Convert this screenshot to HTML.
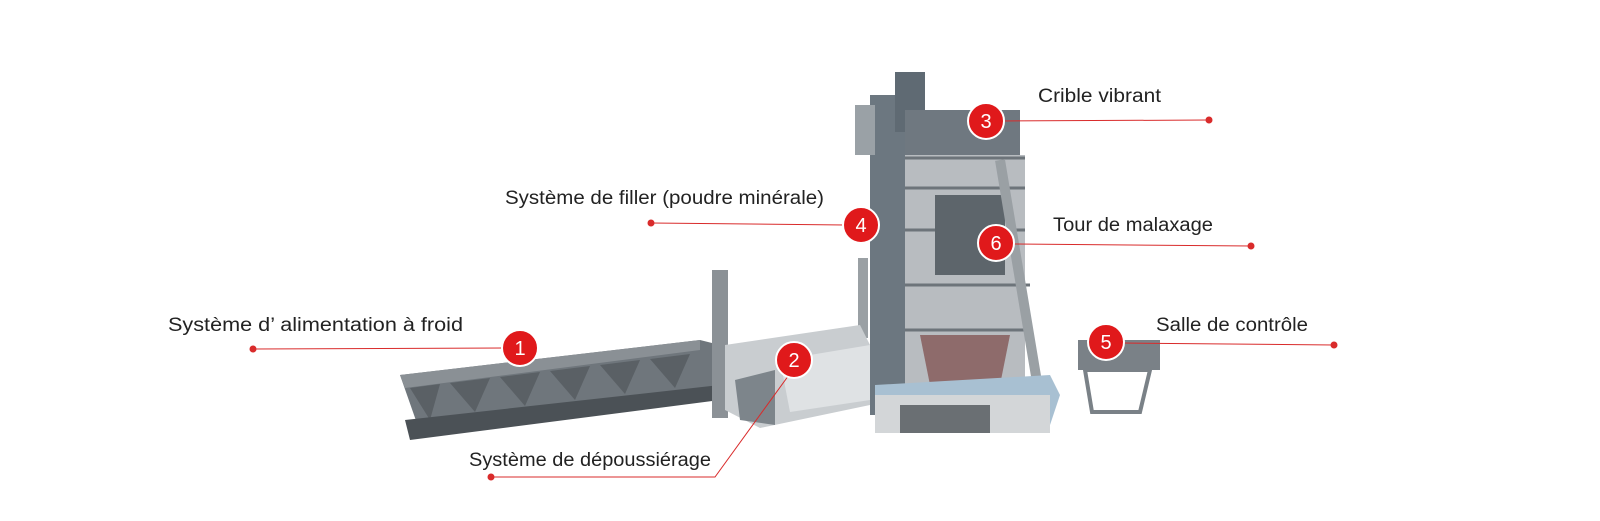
<!DOCTYPE html>
<html><head><meta charset="utf-8"><style>
html,body{margin:0;padding:0;background:#fff;}
svg{display:block}
text{font-family:"Liberation Sans",sans-serif;font-size:19px;fill:#222;}
.n{fill:#fff;font-size:20px;text-anchor:middle;}
</style></head><body>
<svg width="1600" height="521" viewBox="0 0 1600 521" xmlns="http://www.w3.org/2000/svg">
<!-- cold feed hoppers -->
<polygon points="400,375 700,340 720,345 720,395 420,432" fill="#6f767c"/>
<polygon points="400,375 700,340 700,350 405,388" fill="#8a9095"/>
<g fill="#5a6065">
<polygon points="410,388 440,384 430,420"/><polygon points="450,383 490,378 475,412"/><polygon points="500,377 540,372 525,406"/>
<polygon points="550,371 590,366 575,400"/><polygon points="600,365 640,360 625,394"/><polygon points="650,359 690,354 675,388"/>
</g>
<polygon points="405,420 720,385 720,400 410,440" fill="#4b5156"/>
<!-- stack & dust house -->
<rect x="712" y="270" width="16" height="148" fill="#8b9196"/>
<rect x="858" y="258" width="10" height="80" fill="#9aa0a4"/>
<polygon points="725,345 860,325 870,345 870,405 760,428 725,410" fill="#c9cdd0"/>
<polygon points="735,380 775,370 775,425 740,420" fill="#7d858b"/>
<polygon points="780,360 870,345 870,400 790,412" fill="#dfe2e4"/>
<!-- tower column -->
<rect x="870" y="95" width="36" height="320" fill="#6c7780"/>
<rect x="895" y="72" width="30" height="60" fill="#5f6a73"/>
<rect x="855" y="105" width="20" height="50" fill="#9aa1a6"/>
<!-- tower frame -->
<rect x="905" y="110" width="115" height="45" fill="#6f7880"/>
<rect x="905" y="155" width="120" height="230" fill="#b8bcc0"/>
<g stroke="#6d747a" stroke-width="3">
<line x1="905" y1="158" x2="1025" y2="158"/><line x1="905" y1="188" x2="1025" y2="188"/>
<line x1="905" y1="230" x2="1025" y2="230"/><line x1="905" y1="285" x2="1030" y2="285"/>
<line x1="905" y1="330" x2="1030" y2="330"/>
</g>
<rect x="935" y="195" width="70" height="80" fill="#5d656b"/>
<polygon points="920,335 1010,335 1000,385 930,385" fill="#8e6b6b"/>
<line x1="1000" y1="160" x2="1040" y2="400" stroke="#9aa0a4" stroke-width="10"/>
<!-- base -->
<polygon points="875,385 1050,375 1060,395 1050,425 875,430" fill="#a8c0d2"/>
<rect x="875" y="395" width="175" height="38" fill="#d3d6d8"/>
<rect x="900" y="405" width="90" height="28" fill="#6a6f73"/>
<!-- control room -->
<rect x="1078" y="340" width="82" height="30" fill="#7a8187"/>
<polygon points="1085,370 1150,370 1140,412 1092,412" fill="none" stroke="#7a8187" stroke-width="4"/>
<!-- connectors -->
<g stroke="#d92b2b" stroke-width="1" fill="none">
<line x1="253" y1="349" x2="505" y2="348"/>
<polyline points="794,368 715,477 491,477"/>
<line x1="1000" y1="121" x2="1209" y2="120"/>
<line x1="651" y1="223" x2="845" y2="225"/>
<line x1="1012" y1="244" x2="1251" y2="246"/>
<line x1="1122" y1="343" x2="1334" y2="345"/>
</g>
<g fill="#d92b2b">
<circle cx="253" cy="349" r="3.5"/><circle cx="491" cy="477" r="3.5"/><circle cx="1209" cy="120" r="3.5"/>
<circle cx="651" cy="223" r="3.5"/><circle cx="1251" cy="246" r="3.5"/><circle cx="1334" cy="345" r="3.5"/>
</g>
<g fill="#e0191b" stroke="#fff" stroke-width="2">
<circle cx="520" cy="348" r="18"/><circle cx="794" cy="360" r="18"/><circle cx="986" cy="121" r="18"/>
<circle cx="861" cy="225" r="18"/><circle cx="996" cy="243" r="18"/><circle cx="1106" cy="342" r="18"/>
</g>
<text class="n" x="520" y="355">1</text><text class="n" x="794" y="367">2</text><text class="n" x="986" y="128">3</text>
<text class="n" x="861" y="232">4</text><text class="n" x="996" y="250">6</text><text class="n" x="1106" y="349">5</text>
<text x="168" y="331" textLength="295" lengthAdjust="spacingAndGlyphs">Système d’  alimentation à froid</text>
<text x="469" y="466" textLength="242" lengthAdjust="spacingAndGlyphs">Système de dépoussiérage</text>
<text x="1038" y="102" textLength="123" lengthAdjust="spacingAndGlyphs">Crible vibrant</text>
<text x="505" y="204" textLength="319" lengthAdjust="spacingAndGlyphs">Système de filler (poudre minérale)</text>
<text x="1053" y="231" textLength="160" lengthAdjust="spacingAndGlyphs">Tour de malaxage</text>
<text x="1156" y="331" textLength="152" lengthAdjust="spacingAndGlyphs">Salle de contrôle</text>
</svg>
</body></html>
